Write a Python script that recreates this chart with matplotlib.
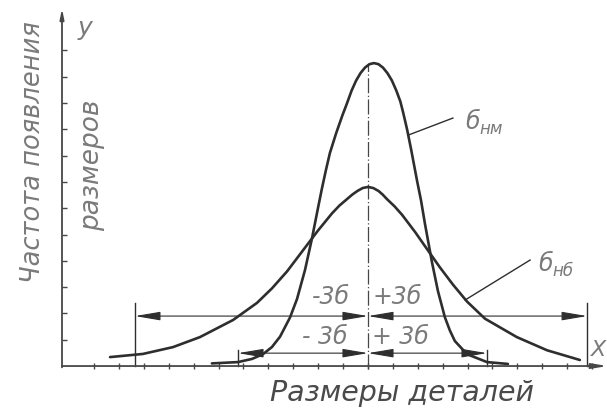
import matplotlib
matplotlib.use('Agg')
import matplotlib.pyplot as plt

# x in scale divisions from the centre line, y in frequency divisions
narrow_x = [-6.27, -5.22, -4.66, -4.22, -3.86, -3.53, -3.13, -2.85, -2.53, -2.25, -2.01,
            -1.85, -1.69, -1.53, -1.28, -1.04, -0.84, -0.66, -0.48, -0.30, -0.12, 0.06, 0.24,
            0.42, 0.60, 0.78, 0.96, 1.14, 1.30, 1.41, 1.57, 1.73, 1.85, 1.97, 2.13,
            2.29, 2.57, 2.81, 3.09, 3.29, 3.49, 3.98, 4.78, 5.62]
narrow_y = [0.10, 0.15, 0.27, 0.45, 0.72, 1.12, 1.85, 2.55, 3.65, 4.85, 6.00,
            6.75, 7.45, 8.10, 8.85, 9.50, 10.00, 10.47, 10.85, 11.14, 11.35, 11.48, 11.52,
            11.48, 11.35, 11.14, 10.86, 10.47, 10.06, 9.65, 9.00, 8.25, 7.65, 7.05, 6.30,
            5.40, 3.95, 2.85, 1.85, 1.35, 0.95, 0.45, 0.15, 0.08]

wide_x = [-10.36, -9.04, -7.83, -6.75, -5.42, -4.46, -3.86, -3.25, -2.61, -2.01, -1.45,
          -1.15, -0.84, -0.63, -0.42, -0.21, 0.0, 0.21, 0.42, 0.59, 0.76, 1.07, 1.37,
          1.89, 2.37, 2.89, 3.41, 3.98, 4.70, 5.98, 7.19, 8.51]
wide_y = [0.34, 0.46, 0.72, 1.10, 1.75, 2.40, 2.95, 3.60, 4.40, 5.15, 5.80,
          6.10, 6.35, 6.52, 6.66, 6.77, 6.81, 6.77, 6.66, 6.52, 6.35, 6.07, 5.75,
          5.10, 4.45, 3.75, 3.10, 2.45, 1.80, 1.10, 0.60, 0.23]

x_ticks = list(range(-11, 10))
y_ticks = list(range(1, 13))

# -3σ / +3σ limits of each curve
wide_limits = (-9.36, 8.80)
narrow_limits = (-5.22, 4.78)

ink = '#2e2e2e'
grey = '#474747'
label_grey = '#7a7a7a'

fig = plt.figure(figsize=(6.07, 4.11), dpi=100)
ax = fig.add_axes([0, 0, 1, 1])
ax.set_xlim(-14.78, 9.60)
ax.set_ylim(-1.71, 13.92)
ax.axis('off')

axis_x = -12.29

# axes with arrows
ax.annotate('', xy=(axis_x, 13.6), xytext=(axis_x, -0.05),
            arrowprops=dict(arrowstyle='-|>,head_length=0.6,head_width=0.12',
                            color=grey, lw=1.3, shrinkA=0, shrinkB=0))
ax.annotate('', xy=(9.62, 0), xytext=(axis_x, 0),
            arrowprops=dict(arrowstyle='-|>,head_length=0.9,head_width=0.15',
                            color=grey, lw=1.3, shrinkA=0, shrinkB=0))
ax.hlines(y_ticks, axis_x, axis_x + 0.22, color=grey, lw=1.0)
ax.vlines(x_ticks, -0.1, 0.1, color=grey, lw=1.0)

# centre line
ax.plot([0, 0], [-0.1, 11.5], color=grey, lw=0.9, ls=(0, (12, 2, 1, 2)))

# distribution curves
ax.plot(wide_x, wide_y, color=ink, lw=1.9, solid_joinstyle='round', solid_capstyle='round')
ax.plot(narrow_x, narrow_y, color=ink, lw=1.9, solid_joinstyle='round', solid_capstyle='round')

# dimension lines for ±3σ
dim_style = '<|-|>,head_length=1.3,head_width=0.22'


def dimension(x0, x1, y, top):
    for xe in (x0, x1):
        ax.plot([xe, xe], [0, top], color=ink, lw=1.0)
        ax.annotate('', xy=(xe, y), xytext=(0, y),
                    arrowprops=dict(arrowstyle=dim_style, color=ink, lw=0.8,
                                    shrinkA=0, shrinkB=0, mutation_scale=12))


dimension(wide_limits[0], wide_limits[1], 1.90, 2.40)
dimension(narrow_limits[0], narrow_limits[1], 0.49, 0.62)

sig_font = dict(fontsize=17, style='italic', color=label_grey, va='center')
ax.text(-0.72, 2.62, '-3б', ha='right', **sig_font)
ax.text(0.20, 2.62, '+3б', ha='left', **sig_font)
ax.text(-0.80, 1.10, '- 3б', ha='right', **sig_font)
ax.text(0.16, 1.10, '+ 3б', ha='left', **sig_font)

# curve labels with leaders
ax.plot([1.61, 3.41], [8.78, 9.43], color=ink, lw=1.0)
ax.text(3.90, 9.28, 'б', fontsize=17, style='italic', color=label_grey, ha='left', va='center')
ax.annotate('нм', xy=(3.90, 9.28), xytext=(10, -5), textcoords='offset points',
            fontsize=12, style='italic', color=label_grey, ha='left', va='center')

ax.plot([3.90, 6.51], [2.51, 4.03], color=ink, lw=1.0)
ax.text(6.83, 3.88, 'б', fontsize=17, style='italic', color=label_grey, ha='left', va='center')
ax.annotate('нб', xy=(6.83, 3.88), xytext=(10, -5), textcoords='offset points',
            fontsize=12, style='italic', color=label_grey, ha='left', va='center')

# axis labels
ax.text(-11.37, 12.85, 'y', fontsize=18, style='italic', color=label_grey, ha='center', va='center')
ax.text(9.56, 0.62, 'X', fontsize=16, style='italic', color=label_grey, ha='right', va='center')
ax.text(-13.45, 8.14, 'Частота появления', rotation=90, fontsize=18.5, style='italic',
        color=label_grey, ha='center', va='center')
ax.text(-11.10, 7.65, 'размеров', rotation=90, fontsize=19, style='italic',
        color=label_grey, ha='center', va='center')
ax.text(1.37, -1.02, 'Размеры деталей', fontsize=20.5, style='italic',
        color='#4a4a4a', ha='center', va='center')

fig.savefig('out.png', dpi=100)
